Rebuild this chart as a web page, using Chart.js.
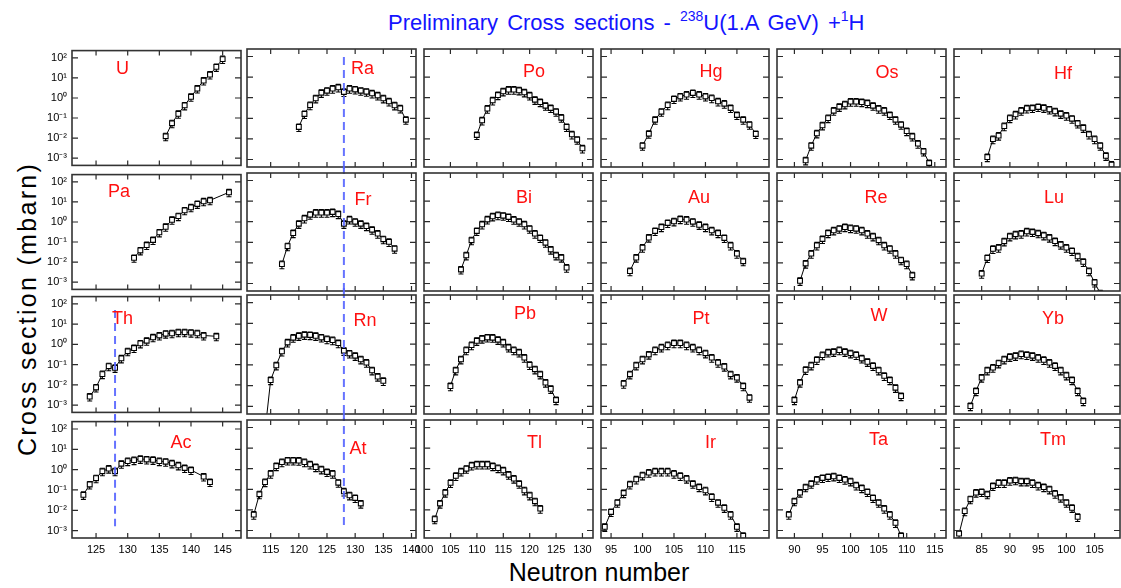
<!DOCTYPE html>
<html><head><meta charset="utf-8">
<script src="https://cdn.jsdelivr.net/npm/chart.js@4.4.1/dist/chart.umd.min.js"></script>
<style>
html,body{margin:0;padding:0;background:#fff;}
body{width:1121px;height:588px;overflow:hidden;position:relative;font-family:"Liberation Sans",Arial,sans-serif;}
canvas{position:absolute;}
.lbl{position:absolute;color:#ff1010;font-size:18px;line-height:1;transform:translate(-50%,-50%);white-space:nowrap;}
#title{position:absolute;left:388px;top:12px;font-size:22px;line-height:1;color:#1414ff;white-space:nowrap;word-spacing:3px;}
#title sup{font-size:14px;position:relative;top:-9px;vertical-align:baseline;line-height:0;}
#ytitle{position:absolute;left:27px;top:309px;font-size:25px;line-height:1;letter-spacing:2.3px;white-space:nowrap;transform:translate(-50%,-50%) rotate(-90deg);color:#000;}
#xtitle{position:absolute;left:599px;top:560px;font-size:25px;line-height:1;white-space:nowrap;transform:translate(-50%,0);color:#000;}
</style></head>
<body>
<div id="title">Preliminary Cross sections - <sup>238</sup>U(1.A GeV) +<sup>1</sup>H</div>
<div id="ytitle">Cross section (mbarn)</div>
<div id="xtitle">Neutron number</div>
<script>
// ---- data: [neutron number, log10(cross section / mbarn)] ----
const U  = [[136,-1.91],[137,-1.26],[138,-0.79],[139,-0.37],[140,0.06],[141,0.47],[142,0.87],[143,1.17],[144,1.55],[145,1.94]];
const Ra = [[120,-1.42],[121,-0.79],[122,-0.36],[123,-0.03],[124,0.24],[125,0.34],[126,0.44],[127,0.50],[128,0.28],[129,0.44],[130,0.40],[131,0.34],[132,0.29],[133,0.21],[134,0.11],[135,-0.03],[136,-0.18],[137,-0.37],[138,-0.52],[139,-1.07]];
const Po = [[110,-1.81],[111,-1.10],[112,-0.53],[113,-0.13],[114,0.13],[115,0.31],[116,0.39],[117,0.39],[118,0.36],[119,0.26],[120,0.11],[121,-0.10],[122,-0.21],[123,-0.39],[124,-0.50],[125,-0.68],[126,-0.97],[127,-1.42],[128,-1.78],[129,-2.04],[130,-2.46]];
const Hg = [[100,-2.33],[101,-1.75],[102,-1.07],[103,-0.68],[104,-0.36],[105,-0.06],[106,0.06],[107,0.15],[108,0.23],[109,0.15],[110,0.06],[111,-0.02],[112,-0.18],[113,-0.29],[114,-0.50],[115,-0.84],[116,-1.07],[117,-1.31],[118,-1.76]];
const Os = [[92,-3.04],[93,-2.33],[94,-1.73],[95,-1.34],[96,-0.99],[97,-0.63],[98,-0.44],[99,-0.32],[100,-0.19],[101,-0.19],[102,-0.21],[103,-0.26],[104,-0.39],[105,-0.53],[106,-0.63],[107,-0.84],[108,-1.07],[109,-1.31],[110,-1.62],[111,-1.88],[112,-2.23],[113,-2.61],[114,-3.17]];
const Hf = [[86,-2.88],[87,-2.01],[88,-1.84],[89,-1.38],[90,-0.99],[91,-0.81],[92,-0.63],[93,-0.52],[94,-0.50],[95,-0.45],[96,-0.49],[97,-0.57],[98,-0.66],[99,-0.78],[100,-0.87],[101,-1.02],[102,-1.25],[103,-1.46],[104,-1.78],[105,-2.01],[106,-2.33],[107,-2.82],[108,-3.25]];
const Pa = [[131,-1.79],[132,-1.42],[133,-1.15],[134,-0.90],[135,-0.52],[136,-0.24],[137,0.11],[138,0.29],[139,0.58],[140,0.73],[141,0.90],[142,1.03],[143,1.08],[146,1.48]];
const Fr = [[117,-2.06],[118,-1.19],[119,-0.55],[120,-0.10],[121,0.16],[122,0.34],[123,0.44],[124,0.44],[125,0.44],[126,0.47],[127,0.37],[128,-0.10],[129,0.11],[130,0.00],[131,-0.10],[132,-0.21],[133,-0.39],[134,-0.58],[135,-0.85],[136,-0.98],[137,-1.31]];
const Bi = [[107,-2.32],[108,-1.63],[109,-0.90],[110,-0.45],[111,-0.13],[112,0.11],[113,0.26],[114,0.32],[115,0.29],[116,0.23],[117,0.10],[118,0.00],[119,-0.13],[120,-0.34],[121,-0.58],[122,-0.79],[123,-1.02],[124,-1.35],[125,-1.63],[126,-1.74],[127,-2.23]];
const Au = [[98,-2.40],[99,-1.74],[100,-1.26],[101,-0.77],[102,-0.45],[103,-0.26],[104,-0.06],[105,0.02],[106,0.13],[107,0.10],[108,0.00],[109,-0.15],[110,-0.26],[111,-0.42],[112,-0.55],[113,-0.79],[114,-1.15],[115,-1.55],[116,-1.92]];
const Re = [[91,-2.87],[92,-2.03],[93,-1.55],[94,-1.15],[95,-0.84],[96,-0.55],[97,-0.42],[98,-0.34],[99,-0.26],[100,-0.31],[101,-0.34],[102,-0.42],[103,-0.58],[104,-0.71],[105,-0.90],[106,-1.15],[107,-1.31],[108,-1.55],[109,-1.87],[110,-2.06],[111,-2.60]];
const Lu = [[85,-2.52],[86,-1.76],[87,-1.32],[88,-1.26],[89,-0.95],[90,-0.71],[91,-0.61],[92,-0.58],[93,-0.47],[94,-0.50],[95,-0.56],[96,-0.66],[97,-0.77],[98,-0.94],[99,-1.11],[100,-1.26],[101,-1.42],[102,-1.68],[103,-1.95],[104,-2.40],[105,-2.95],[106,-3.48]];
const Th = [[124,-2.58],[125,-2.13],[126,-1.47],[127,-1.08],[128,-1.16],[129,-0.69],[130,-0.34],[131,-0.18],[132,0.05],[133,0.18],[134,0.35],[135,0.44],[136,0.53],[137,0.55],[138,0.60],[139,0.60],[140,0.58],[141,0.55],[142,0.44],[144,0.40]];
const Rn = [[114,-4.20],[115,-1.73],[116,-1.02],[117,-0.35],[118,0.08],[119,0.31],[120,0.40],[121,0.45],[122,0.44],[123,0.40],[124,0.32],[125,0.24],[126,0.19],[127,0.05],[128,-0.32],[129,-0.45],[130,-0.56],[131,-0.73],[132,-0.89],[133,-1.26],[134,-1.56],[135,-1.77]];
const Pb = [[105,-2.02],[106,-1.26],[107,-0.73],[108,-0.29],[109,-0.05],[110,0.16],[111,0.27],[112,0.32],[113,0.31],[114,0.21],[115,0.08],[116,-0.16],[117,-0.29],[118,-0.40],[119,-0.65],[120,-1.00],[121,-1.21],[122,-1.45],[123,-1.85],[124,-2.15],[125,-2.69]];
const Pt = [[97,-1.90],[98,-1.45],[99,-1.02],[100,-0.73],[101,-0.50],[102,-0.29],[103,-0.16],[104,-0.05],[105,0.05],[106,0.05],[107,-0.05],[108,-0.16],[109,-0.29],[110,-0.44],[111,-0.65],[112,-0.89],[113,-1.08],[114,-1.45],[115,-1.61],[116,-2.02],[117,-2.58]];
const W  = [[90,-2.69],[91,-1.85],[92,-1.24],[93,-1.02],[94,-0.76],[95,-0.53],[96,-0.40],[97,-0.37],[98,-0.29],[99,-0.37],[100,-0.44],[101,-0.52],[102,-0.69],[103,-0.85],[104,-1.05],[105,-1.26],[106,-1.53],[107,-1.73],[108,-2.10],[109,-2.50]];
const Yb = [[83,-2.98],[84,-2.26],[85,-1.61],[86,-1.26],[87,-1.13],[88,-0.92],[89,-0.73],[90,-0.61],[91,-0.56],[92,-0.48],[93,-0.52],[94,-0.56],[95,-0.65],[96,-0.76],[97,-0.89],[98,-1.05],[99,-1.26],[100,-1.50],[101,-1.73],[102,-2.26],[103,-2.74]];
const Ac = [[123,-1.24],[124,-0.73],[125,-0.42],[126,-0.08],[127,0.05],[128,-0.08],[129,0.29],[130,0.42],[131,0.47],[132,0.53],[133,0.50],[134,0.48],[135,0.42],[136,0.39],[137,0.31],[138,0.21],[139,0.08],[140,-0.02],[142,-0.34],[143,-0.61]];
const At = [[112,-2.23],[113,-1.24],[114,-0.65],[115,-0.24],[116,0.13],[117,0.32],[118,0.40],[119,0.40],[120,0.39],[121,0.32],[122,0.21],[123,0.08],[124,-0.03],[125,-0.16],[126,-0.24],[127,-0.68],[128,-1.10],[129,-1.29],[130,-1.42],[131,-1.69]];
const Tl = [[102,-2.45],[103,-1.69],[104,-1.16],[105,-0.69],[106,-0.35],[107,-0.13],[108,0.00],[109,0.16],[110,0.21],[111,0.21],[112,0.21],[113,0.13],[114,0.03],[115,-0.08],[116,-0.29],[117,-0.48],[118,-0.73],[119,-1.05],[120,-1.29],[121,-1.58],[122,-1.94]];
const Ir = [[94,-2.82],[95,-2.10],[96,-1.65],[97,-1.18],[98,-0.76],[99,-0.52],[100,-0.32],[101,-0.19],[102,-0.13],[103,-0.13],[104,-0.13],[105,-0.24],[106,-0.35],[107,-0.48],[108,-0.73],[109,-0.89],[110,-1.05],[111,-1.37],[112,-1.65],[113,-1.90],[114,-2.23],[115,-2.82],[116,-3.26]];
const Ta = [[89,-2.23],[90,-1.58],[91,-1.16],[92,-0.90],[93,-0.73],[94,-0.53],[95,-0.45],[96,-0.40],[97,-0.37],[98,-0.45],[99,-0.53],[100,-0.61],[101,-0.81],[102,-0.94],[103,-1.13],[104,-1.42],[105,-1.65],[106,-1.94],[107,-2.23],[108,-2.63],[109,-3.26]];
const Tm = [[81,-3.15],[82,-2.06],[83,-1.48],[84,-1.16],[85,-1.13],[86,-1.24],[87,-0.84],[88,-0.69],[89,-0.69],[90,-0.58],[91,-0.56],[92,-0.61],[93,-0.61],[94,-0.69],[95,-0.81],[96,-0.89],[97,-1.00],[98,-1.21],[99,-1.40],[100,-1.65],[101,-1.90],[102,-2.34]];
const REL_ERR = 0.4;   // relative size of the error bars

// element names and their series, row by row
const NAMES = ['U','Ra','Po','Hg','Os','Hf','Pa','Fr','Bi','Au','Re','Lu','Th','Rn','Pb','Pt','W','Yb','Ac','At','Tl','Ir','Ta','Tm'];
const SERIES = [U,Ra,Po,Hg,Os,Hf,Pa,Fr,Bi,Au,Re,Lu,Th,Rn,Pb,Pt,W,Yb,Ac,At,Tl,Ir,Ta,Tm];

// axes
const X_RANGES = [[121.2,147.9],[110.8,140.8],[100,132],[93.4,120.1],[86.9,117],[80.1,109.5]];
const X_TICKS = [[125,130,135,140,145],[115,120,125,130,135,140],[100,105,110,115,120,125,130],[95,100,105,110,115],[90,95,100,105,110,115],[85,90,95,100,105]];
const Y_LOG_RANGE = [-3.364, 2.364];
const Y_TICKS = [1e-3,1e-2,1e-1,1,10,100];
const Y_LABELS = ['10\u207B\u00B3','10\u207B\u00B2','10\u207B\u00B9','10\u2070','10\u00B9','10\u00B2'];

// vertical dashed line at N = 128: [panel index, log10 top, log10 bottom]
const DASH_N = 128;
const DASH_SPANS = [[12,1.70,-3.70],[18,2.70,-2.78],[1,1.97,-3.70],[7,2.70,-3.70],[13,2.70,-3.70],[19,2.70,-2.75]];

// layout (pixels)
const COL_LEFT = [72,247,424,601,777,954];
const COL_W = [169,169,169,168,169,166];
const ROW_TOP = [49,173,295,420];
const ROW_H = [118,118,119,118];
const LABEL_POS = [[122.5,68],[362.5,68],[534,71],[711,71],[887,72],[1063,73],
                   [119,191],[363,199],[524,197],[699,197],[876,197],[1054,197],
                   [122.5,318],[365,320],[525,313],[701,318],[879,315],[1053,318],
                   [181,442],[358,448],[534.5,442],[710.5,442],[878.5,439],[1053,439]];

Chart.defaults.font.family = '"Liberation Sans", Arial, sans-serif';
Chart.defaults.color = '#000';

const framePlugin = {
  id: 'frame',
  afterDraw(chart) {
    const {ctx, chartArea: a} = chart;
    const xs = chart.scales.x, ys = chart.scales.y;
    ctx.save();
    ctx.strokeStyle = '#2a2a2a';
    ctx.lineWidth = 1.2;
    ctx.beginPath();
    xs.ticks.forEach(t => {
      const px = xs.getPixelForValue(t.value);
      if (px <= a.left + 1 || px >= a.right - 1) return;
      ctx.moveTo(px, a.bottom); ctx.lineTo(px, a.bottom - 5);
      ctx.moveTo(px, a.top); ctx.lineTo(px, a.top + 5);
    });
    ys.ticks.forEach(t => {
      const py = ys.getPixelForValue(t.value);
      if (py <= a.top + 1 || py >= a.bottom - 1) return;
      ctx.moveTo(a.left, py); ctx.lineTo(a.left + 6, py);
      ctx.moveTo(a.right, py); ctx.lineTo(a.right - 6, py);
    });
    ctx.stroke();
    ctx.lineWidth = 1.6;
    ctx.strokeStyle = '#333';
    ctx.strokeRect(a.left, a.top, a.right - a.left, a.bottom - a.top);
    ctx.restore();
  }
};

const errPlugin = {
  id: 'errbars',
  beforeDatasetsDraw(chart) {
    const {ctx, chartArea: a} = chart;
    const xs = chart.scales.x, ys = chart.scales.y;
    ctx.save();
    ctx.beginPath();
    ctx.rect(a.left, a.top, a.right - a.left, a.bottom - a.top);
    ctx.clip();
    ctx.strokeStyle = '#000';
    ctx.lineWidth = 1.1;
    ctx.beginPath();
    chart.data.datasets.forEach(ds => {
      if (!ds.errbars) return;
      ds.data.forEach(p => {
        const x = xs.getPixelForValue(p.x);
        const y1 = ys.getPixelForValue(p.y * (1 + REL_ERR));
        const y2 = ys.getPixelForValue(p.y * (1 - REL_ERR));
        ctx.moveTo(x, y1); ctx.lineTo(x, y2);
        ctx.moveTo(x - 2.5, y1); ctx.lineTo(x + 2.5, y1);
        ctx.moveTo(x - 2.5, y2); ctx.lineTo(x + 2.5, y2);
      });
    });
    ctx.stroke();
    ctx.restore();
  }
};

function makePanel(idx) {
  const r = Math.floor(idx / 6), c = idx % 6;
  const PL = c === 0 ? 50 : 14, PR = 12, PT = 10, PB = r === 3 ? 30 : 10;
  const w = COL_W[c], h = ROW_H[r];
  const cv = document.createElement('canvas');
  cv.width = w + PL + PR; cv.height = h + PT + PB;
  cv.style.left = (COL_LEFT[c] - PL) + 'px';
  cv.style.top = (ROW_TOP[r] - PT) + 'px';
  cv.style.width = cv.width + 'px'; cv.style.height = cv.height + 'px';
  document.body.appendChild(cv);

  const datasets = [];
  DASH_SPANS.filter(d => d[0] === idx).forEach(d => {
    datasets.push({
      data: [{x: DASH_N, y: 10 ** d[1]}, {x: DASH_N, y: 10 ** d[2]}],
      borderColor: 'rgba(85,100,255,0.9)', borderWidth: 2, borderDash: [8, 5],
      pointRadius: 0, clip: false, fill: false
    });
  });
  datasets.push({
    errbars: true,
    data: SERIES[idx].map(p => ({x: p[0], y: 10 ** p[1]})),
    borderColor: '#000', borderWidth: 1, tension: 0, fill: false,
    pointStyle: 'rect', pointRadius: 3.4, pointBorderWidth: 1.1,
    pointBackgroundColor: '#fff', pointBorderColor: '#000'
  });

  new Chart(cv, {
    type: 'line',
    data: {datasets},
    options: {
      responsive: false, animation: false, events: [],
      layout: {padding: {left: 0, right: PR, top: PT, bottom: 0}},
      plugins: {legend: {display: false}, tooltip: {enabled: false}},
      scales: {
        x: {
          type: 'linear', min: X_RANGES[c][0], max: X_RANGES[c][1],
          afterBuildTicks: s => { s.ticks = X_TICKS[c].map(v => ({value: v})); },
          afterFit: s => { s.height = PB; },
          grid: {display: false, drawTicks: false}, border: {display: false},
          ticks: {display: r === 3, autoSkip: false, maxRotation: 0, padding: 5,
                  font: {size: 11}, color: '#000', callback: v => String(v)}
        },
        y: {
          type: 'logarithmic', min: 10 ** Y_LOG_RANGE[0], max: 10 ** Y_LOG_RANGE[1],
          afterBuildTicks: s => { s.ticks = Y_TICKS.map(v => ({value: v})); },
          afterFit: s => { s.width = PL; },
          grid: {display: false, drawTicks: false}, border: {display: false},
          ticks: {display: c === 0, autoSkip: false, padding: 5,
                  font: {size: 11}, color: '#000', callback: (v, i) => Y_LABELS[i]}
        }
      }
    },
    plugins: [errPlugin, framePlugin]
  });

  const lb = document.createElement('div');
  lb.className = 'lbl';
  lb.textContent = NAMES[idx];
  lb.style.left = LABEL_POS[idx][0] + 'px';
  lb.style.top = LABEL_POS[idx][1] + 'px';
  document.body.appendChild(lb);
}

for (let i = 0; i < 24; i++) makePanel(i);
</script>
</body></html>
